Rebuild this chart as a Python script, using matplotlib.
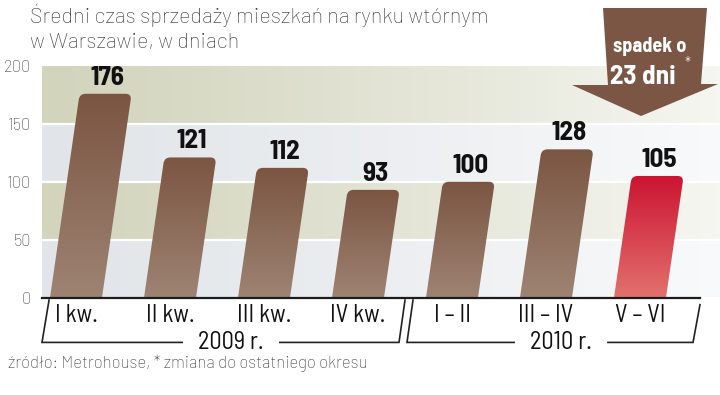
import numpy as np
import matplotlib
matplotlib.use('Agg')
import matplotlib.pyplot as plt
from matplotlib.path import Path
from matplotlib.patches import PathPatch, Polygon
from matplotlib.colors import LinearSegmentedColormap, to_rgb

# dane
categories = ['I kw.', 'II kw.', 'III kw.', 'IV kw.', 'I – II', 'III – IV', 'V – VI']
values = [176, 121, 112, 93, 100, 128, 105]
groups = ['2009 r.', '2010 r.']
yticks = [0, 50, 100, 150, 200]
title_lines = ['Średni czas sprzedaży mieszkań na rynku wtórnym', 'w Warszawie, w dniach']
source = 'źródło: Metrohouse, * zmiana do ostatniego okresu'
callout = ['spadek o', '23 dni']

COND = ['Barlow Semi Condensed', 'DejaVu Sans']
PLAIN = ['Barlow', 'Liberation Sans', 'DejaVu Sans']

W, H = 720, 395
fig = plt.figure(figsize=(W / 100, H / 100), dpi=100)
ax = fig.add_axes([42 / W, (H - 297.5) / H, 678 / W, 231.5 / H])
xlim = (-0.362, 6.851)
ylim = (0, 200)

# tlo - pasy z gradientem do bieli w prawo
blue = np.array(to_rgb('#e1e5e9'))
green = np.array(to_rgb('#d2d4bc'))
t = np.linspace(0, 0.82, 300) ** 1.15
for i, (lo, hi) in enumerate(zip(yticks[:-1], yticks[1:])):
    base = blue if i % 2 == 0 else green
    row = base[None, :] * (1 - t[:, None]) + np.ones(3)[None, :] * t[:, None]
    ax.imshow(row[None, :, :], extent=(xlim[0], xlim[1], lo, hi), aspect='auto',
              interpolation='bilinear', zorder=0)
for y in yticks[1:-1]:
    ax.axhline(y, color='white', lw=1.6, zorder=1)

# slupki (pochylone, zaokraglone gorne rogi)
width = 0.553
skew = 0.168 / 94          # przesuniecie w x na jednostke wartosci
rx, ry = 6 / 94, 6 / 1.1575
brown = LinearSegmentedColormap.from_list('brown', ['#9e8373', '#7b5542'])
red = LinearSegmentedColormap.from_list('red', ['#e2716d', '#cc1332'])
grad = np.linspace(0, 1, 256).reshape(-1, 1)

for i, v in enumerate(values):
    xl, xr = i - width / 2, i + width / 2
    sh = skew * v
    verts = [(xl, 0), (xl + skew * (v - ry), v - ry), (xl + sh, v), (xl + sh + rx, v),
             (xr + sh - rx, v), (xr + sh, v), (xr + skew * (v - ry), v - ry),
             (xr, 0), (xl, 0)]
    codes = [Path.MOVETO, Path.LINETO, Path.CURVE3, Path.CURVE3,
             Path.LINETO, Path.CURVE3, Path.CURVE3, Path.LINETO, Path.CLOSEPOLY]
    patch = PathPatch(Path(verts, codes), fc='none', ec='none', zorder=2)
    ax.add_patch(patch)
    cm = red if i == len(values) - 1 else brown
    im = ax.imshow(grad, extent=(xl, xr + sh, 0, v), origin='lower', aspect='auto',
                   cmap=cm, zorder=2, interpolation='bilinear')
    im.set_clip_path(patch)
    ax.annotate(str(v), (i + sh + 0.02, v), xytext=(0, 3), textcoords='offset points',
                ha='center', va='bottom', fontsize=19.5, fontweight='bold',
                color='#111111', family=COND, zorder=4)

ax.axhline(0, xmax=(700 - 42) / 678, color='#1c1c1c', lw=1.6, zorder=3, clip_on=False)

ax.set_xlim(*xlim)
ax.set_ylim(*ylim)
for s in ax.spines.values():
    s.set_visible(False)
ax.set_yticks(yticks)
ax.set_yticklabels([str(y) for y in yticks], fontsize=12, color='#3a3a3a',
                   family=PLAIN, fontweight='light')
ax.set_xticks(range(len(categories)))
ax.set_xticklabels(categories, fontsize=17.5, color='#111111', family=COND)
ax.tick_params(axis='y', length=0, pad=8)
ax.tick_params(axis='x', length=0, pad=5)

# nawiasy grup
px = 1 / 94
bracket_y, top_y = -38.8, -2.2
bracket_ends = [(-0.362, -0.287, 3.436, 3.5), (3.521, 3.585, 6.564, 6.638)]
fig.canvas.draw()
renderer = fig.canvas.get_renderer()
for name, (lb, lt, rb, rt) in zip(groups, bracket_ends):
    mid = (lb + rt) / 2 + 0.08
    txt = ax.text(mid, bracket_y, name, ha='center', va='center', fontsize=17.5,
                  color='#111111', family=COND, clip_on=False)
    bb = txt.get_window_extent(renderer)
    half = (bb.width / 2 + 16) * px
    ax.plot([lt, lb, mid - half], [top_y, bracket_y, bracket_y], color='#222222',
            lw=1.2, clip_on=False, solid_joinstyle='miter')
    ax.plot([mid + half, rb, rt], [bracket_y, bracket_y, top_y - (4 if rt > 6 else 0)],
            color='#222222', lw=1.2, clip_on=False, solid_joinstyle='miter')

# tytul i zrodlo
for k, line in enumerate(title_lines):
    fig.text(30 / W, 1 - (23 + 25 * k) / H, line, fontsize=15.5, color='#3c3c3c',
             family=PLAIN, fontweight='light', va='baseline')
fig.text(8 / W, 1 - 368 / H, source, fontsize=12, color='#333333',
         family=PLAIN, fontweight='light', va='baseline')

# strzalka "spadek"
arrow_px = [(603, 8), (707, 8), (701, 84), (718, 84), (641, 116), (572, 85), (608, 85)]
arrow = Polygon([(x / W, 1 - y / H) for x, y in arrow_px], closed=True,
                transform=fig.transFigure, fc='#7b5644', ec='none', zorder=5)
fig.patches.append(arrow)
fig.text(650 / W, 1 - 46 / H, callout[0], fontsize=14.5, fontweight='bold', color='white',
         family=COND, ha='center', va='center', zorder=6)
fig.text(643 / W, 1 - 77 / H, callout[1], fontsize=19.5, fontweight='bold', color='white',
         family=COND, ha='center', va='center', zorder=6)
fig.text(688 / W, 1 - 64 / H, '*', fontsize=11, color='#e8e0da',
         family=PLAIN, ha='center', va='center', zorder=6)

fig.savefig('out.png', dpi=100)
